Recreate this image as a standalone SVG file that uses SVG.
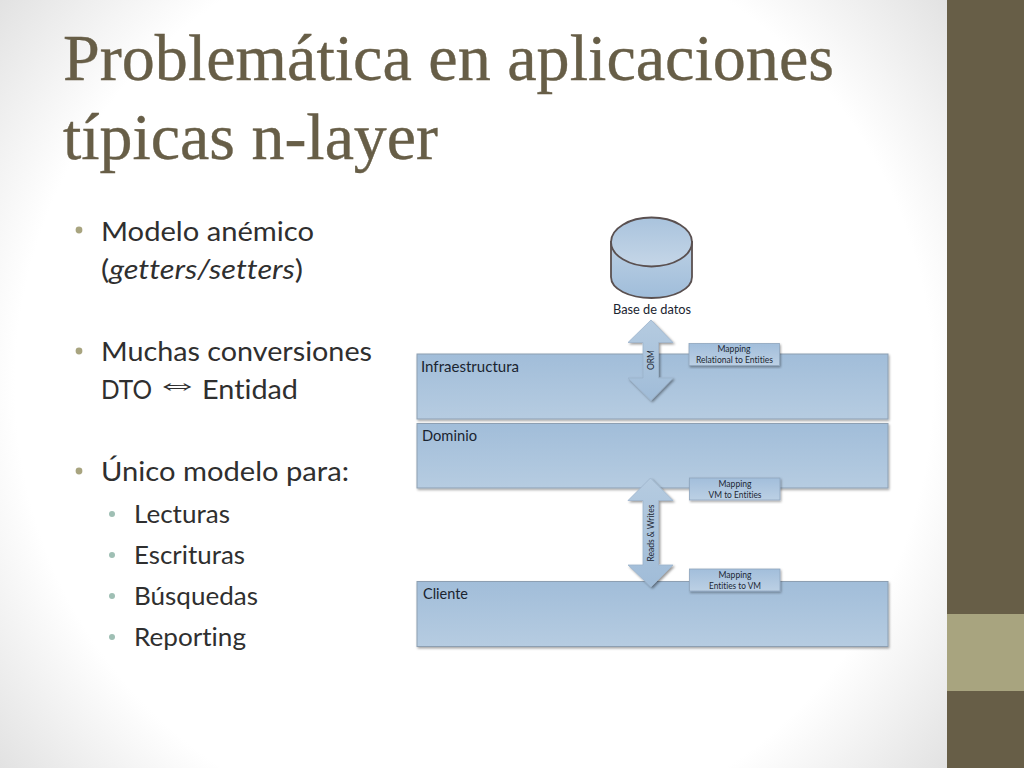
<svg xmlns="http://www.w3.org/2000/svg" width="1024" height="768" viewBox="0 0 1024 768">
<style>
.title{font-family:"Liberation Serif",serif;font-size:66px;fill:#675e47;stroke:#675e47;stroke-width:.4px}
.b1{font-family:Lato,"Open Sans",sans-serif;font-size:27.5px;fill:#2f2f2f;font-variant-ligatures:none}
.b2{font-family:Lato,"Open Sans",sans-serif;font-size:24.5px;fill:#2f2f2f;font-variant-ligatures:none}
.lay{fill:url(#g);stroke:#8d9fb2;stroke-width:1;filter:url(#s)}
.map{fill:url(#g2);stroke:#8fa6bd;stroke-width:.8;filter:url(#s)}
.arr{fill:url(#g3);stroke:#9db4cb;stroke-width:.8;filter:url(#s2)}
.t{font-family:Lato,"Open Sans",sans-serif;fill:#1a2430;font-variant-ligatures:none}
.ll{font-size:15px}
.ml{font-size:9.500px;text-anchor:middle;fill:#1c2733}
.al{font-size:9.500px;fill:#1c2733}
</style>
<defs>
<radialGradient id="bg" gradientUnits="userSpaceOnUse" cx="474" cy="384" r="620">
<stop offset="0" stop-color="#fff"/><stop offset=".74" stop-color="#fff"/><stop offset="1" stop-color="#e0e0e0"/>
</radialGradient>
<linearGradient id="g" x1="0" y1="0" x2="0" y2="1"><stop offset="0" stop-color="#a1bdd9"/><stop offset="1" stop-color="#b6cce1"/></linearGradient>
<linearGradient id="g2" x1="0" y1="0" x2="0" y2="1"><stop offset="0" stop-color="#a2bedb"/><stop offset="1" stop-color="#bcd0e4"/></linearGradient>
<linearGradient id="g3" x1="0" y1="0" x2="0" y2="1"><stop offset="0" stop-color="#b5cbe0"/><stop offset="1" stop-color="#a0bcd8"/></linearGradient>
<linearGradient id="cy" x1="0" y1="0" x2="0" y2="1"><stop offset="0" stop-color="#bcd0e4"/><stop offset="1" stop-color="#a0bdda"/></linearGradient>
<linearGradient id="ct" x1="0" y1="0" x2="0" y2="1"><stop offset="0" stop-color="#a9c3dd"/><stop offset="1" stop-color="#c5d6e7"/></linearGradient>
<filter id="s" x="-5%" y="-10%" width="110%" height="125%"><feDropShadow dx="1" dy="1.500" stdDeviation=".8" flood-color="#000" flood-opacity=".35"/></filter>
<filter id="s2" x="-20%" y="-10%" width="140%" height="120%"><feDropShadow dx="1.500" dy="1.500" stdDeviation="1" flood-color="#000" flood-opacity=".4"/></filter>
</defs>
<rect id="background" width="1024" height="768" fill="url(#bg)"/>
<g id="sidebar">
<rect x="947" y="0" width="77" height="768" fill="#675e47"/>
<rect x="947" y="614" width="77" height="77" fill="#a8a47f"/>
</g>
<g id="title" class="title">
<text x="63" y="80" textLength="771" lengthAdjust="spacingAndGlyphs">Problemática en aplicaciones</text>
<text x="63" y="159" textLength="375" lengthAdjust="spacingAndGlyphs">típicas n-layer</text>
</g>
<g id="bullets">
<g fill="#a8a47f">
<circle cx="79" cy="230" r="3.400"/><circle cx="79" cy="351" r="3.400"/><circle cx="79" cy="471" r="3.400"/>
</g>
<g fill="#9fbfb4">
<circle cx="112" cy="514" r="3"/><circle cx="112" cy="555" r="3"/><circle cx="112" cy="596" r="3"/><circle cx="112" cy="637" r="3"/>
</g>
<g class="b1">
<text x="101" y="240.500" textLength="213" lengthAdjust="spacingAndGlyphs">Modelo anémico</text>
<text x="101" y="279" textLength="202" lengthAdjust="spacingAndGlyphs">(<tspan font-style="italic">getters/setters</tspan>)</text>
<text x="101" y="360.500" textLength="271" lengthAdjust="spacingAndGlyphs">Muchas conversiones</text>
<text x="101" y="399" textLength="51" lengthAdjust="spacingAndGlyphs">DTO</text>
<text transform="translate(154 394) scale(1.550 1)" style="font-family:'Liberation Sans',sans-serif;font-size:30px">⇔</text>
<text x="202" y="399" textLength="96" lengthAdjust="spacingAndGlyphs">Entidad</text>
<text x="101" y="480.500" textLength="248" lengthAdjust="spacingAndGlyphs">Único modelo para:</text>
</g>
<g class="b2">
<text x="134" y="523" textLength="96" lengthAdjust="spacingAndGlyphs">Lecturas</text>
<text x="134" y="564" textLength="111" lengthAdjust="spacingAndGlyphs">Escrituras</text>
<text x="134" y="605" textLength="124" lengthAdjust="spacingAndGlyphs">Búsquedas</text>
<text x="134" y="646" textLength="112" lengthAdjust="spacingAndGlyphs">Reporting</text>
</g>
</g>
<g id="db">
<path d="M611 242V277C611 289 629 298 651.500 298S692 289 692 277V242Z" fill="url(#cy)" stroke="#5a5050" stroke-width="1.800"/>
<ellipse cx="651.500" cy="242" rx="40.500" ry="24.500" fill="url(#ct)" stroke="#5a5050" stroke-width="1.800"/>
<text class="t" x="613" y="314" font-size="12.500" textLength="78" lengthAdjust="spacingAndGlyphs">Base de datos</text>
</g>
<g id="infraestructura">
<rect class="lay" x="417" y="354" width="471" height="65"/>
<text class="t ll" x="421" y="371.500" textLength="98" lengthAdjust="spacingAndGlyphs">Infraestructura</text>
</g>
<g id="dominio">
<rect class="lay" x="417" y="423.500" width="471" height="64.500"/>
<text class="t ll" x="422" y="440.500" textLength="55" lengthAdjust="spacingAndGlyphs">Dominio</text>
</g>
<g id="cliente">
<rect class="lay" x="417" y="581.500" width="471" height="65"/>
<text class="t ll" x="423" y="598.500" textLength="45" lengthAdjust="spacingAndGlyphs">Cliente</text>
</g>
<g id="connectors">
<path class="arr" d="M651 320L673 342.500H658.500V378H673L651 400.500L628 378H643V342.500H628Z"/>
<path class="arr" d="M650.500 478L673 500.500H658.500V565H673L651 587L628 565H643V500.500H628Z"/>
<text class="t al" transform="translate(653.500 370) rotate(-90)" textLength="20" lengthAdjust="spacingAndGlyphs">ORM</text>
<text class="t al" transform="translate(653.500 561.500) rotate(-90)" textLength="57" lengthAdjust="spacingAndGlyphs">Reads &amp; Writes</text>
</g>
<g id="map1">
<rect class="map" x="689" y="343.500" width="90.500" height="22"/>
<text class="t ml" x="734" y="352" textLength="33" lengthAdjust="spacingAndGlyphs">Mapping</text>
<text class="t ml" x="734.500" y="363" textLength="77" lengthAdjust="spacingAndGlyphs">Relational to Entities</text>
</g>
<g id="map2">
<rect class="map" x="689.500" y="478" width="90.500" height="22"/>
<text class="t ml" x="735" y="487" textLength="33" lengthAdjust="spacingAndGlyphs">Mapping</text>
<text class="t ml" x="735" y="498" textLength="53" lengthAdjust="spacingAndGlyphs">VM to Entities</text>
</g>
<g id="map3">
<rect class="map" x="689.500" y="569" width="90.500" height="22"/>
<text class="t ml" x="735" y="577.500" textLength="33" lengthAdjust="spacingAndGlyphs">Mapping</text>
<text class="t ml" x="735" y="588.500" textLength="52" lengthAdjust="spacingAndGlyphs">Entities to VM</text>
</g>
</svg>
